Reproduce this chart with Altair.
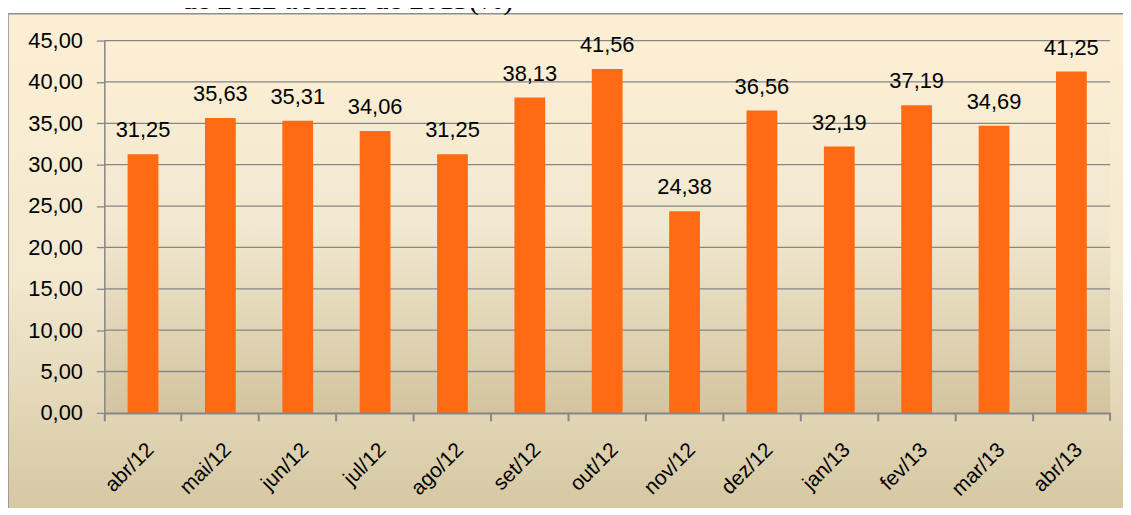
import altair as alt
import pandas as pd

# ---- data ----
months = ["abr/12", "mai/12", "jun/12", "jul/12", "ago/12", "set/12", "out/12",
          "nov/12", "dez/12", "jan/13", "fev/13", "mar/13", "abr/13"]
values = [31.25, 35.63, 35.31, 34.06, 31.25, 38.13, 41.56,
          24.38, 36.56, 32.19, 37.19, 34.69, 41.25]
y_ticks = [0, 5, 10, 15, 20, 25, 30, 35, 40, 45]
title_text = "de 2012 a Abril de 2013(%)"

df = pd.DataFrame({"mes": months, "valor": values})
df["rotulo"] = [f"{v:.2f}".replace(".", ",") for v in values]
grid_df = pd.DataFrame({"valor": y_ticks[1:]})
one = pd.DataFrame({"k": [0]})

W, H = 1013, 375
FONT = "Liberation Sans"
GRAY = "#868686"

xs = alt.Scale(domain=months, paddingInner=0, paddingOuter=0)
ys = alt.Scale(domain=[0, 45], nice=False)

y_axis = alt.Axis(
    values=y_ticks, grid=False, domainColor=GRAY, domainWidth=1.5,
    tickColor=GRAY, tickSize=8, tickWidth=1.3, labelPadding=14,
    labelFont=FONT, labelFontSize=22, labelColor="black",
    labelExpr="replace(format(datum.value, '.2f'), '.', ',')",
    title=None, zindex=1)
Y = alt.Y("valor:Q", scale=ys, axis=y_axis)

chart_bg = alt.Chart(one).mark_rect(
    fill=alt.Gradient(gradient="linear", x1=0, y1=0, x2=0, y2=1, stops=[
        alt.GradientStop(color="#FDEFD4", offset=0),
        alt.GradientStop(color="#F3E9D0", offset=0.45),
        alt.GradientStop(color="#D5C7A2", offset=0.86),
        alt.GradientStop(color="#CEBF99", offset=1)]),
    stroke="#8E8E8E", strokeWidth=1.5,
).encode(x=alt.value(-97), x2=alt.value(1040), y=alt.value(-27), y2=alt.value(560))

plot_bg = alt.Chart(one).mark_rect(
    fill=alt.Gradient(gradient="linear", x1=0, y1=0, x2=0, y2=1, stops=[
        alt.GradientStop(color="#FDEFD4", offset=0),
        alt.GradientStop(color="#F1E8D0", offset=0.5),
        alt.GradientStop(color="#D3C49E", offset=1)]),
).encode(x=alt.value(0), x2=alt.value(W), y=alt.value(0), y2=alt.value(H))

grid = alt.Chart(grid_df).mark_rule(color=GRAY, strokeWidth=1.3).encode(
    y=Y, x=alt.value(0), x2=alt.value(W))

bars = alt.Chart(df).mark_bar(color="#FF6A13", size=31).encode(
    x=alt.X("mes:N", scale=xs, axis=alt.Axis(
        orient="bottom", bandPosition=0, labels=False, ticks=True, tickSize=8,
        tickColor=GRAY, tickWidth=2, domainColor=GRAY, domainWidth=2,
        title=None, grid=False, zindex=1)),
    y=Y,
)

labels = alt.Chart(df).mark_text(
    font=FONT, fontSize=22, color="black", baseline="alphabetic", dy=-17
).encode(
    x=alt.X("mes:N", scale=xs, axis=alt.Axis(
        orient="bottom", bandPosition=0.5, ticks=False, domain=False, tickSize=0,
        labelAngle=-45, labelPadding=26, labelFont=FONT, labelFontSize=21,
        labelColor="black", title=None, grid=False, zindex=1)),
    y=Y,
    text="rotulo:N",
)

end_tick = alt.Chart(one).mark_rule(color=GRAY, strokeWidth=2).encode(
    x=alt.value(W), y=alt.value(H), y2=alt.value(H + 8))

title = alt.Chart(one).mark_text(
    text=title_text, font="Liberation Serif", fontSize=30, align="center",
    baseline="alphabetic", color="black"
).encode(x=alt.value(245), y=alt.value(-32))

chart = alt.layer(chart_bg, plot_bg, grid, bars, labels, end_tick, title).resolve_axis(
    x="independent"
).properties(
    width=W, height=H,
    padding={"left": 97, "top": 31, "right": 13, "bottom": 94},
    autosize=alt.AutoSizeParams(type="none"),
    background="white",
).configure_view(stroke=None)

chart.save("out.html", embed_options={"renderer": "svg", "actions": False})
